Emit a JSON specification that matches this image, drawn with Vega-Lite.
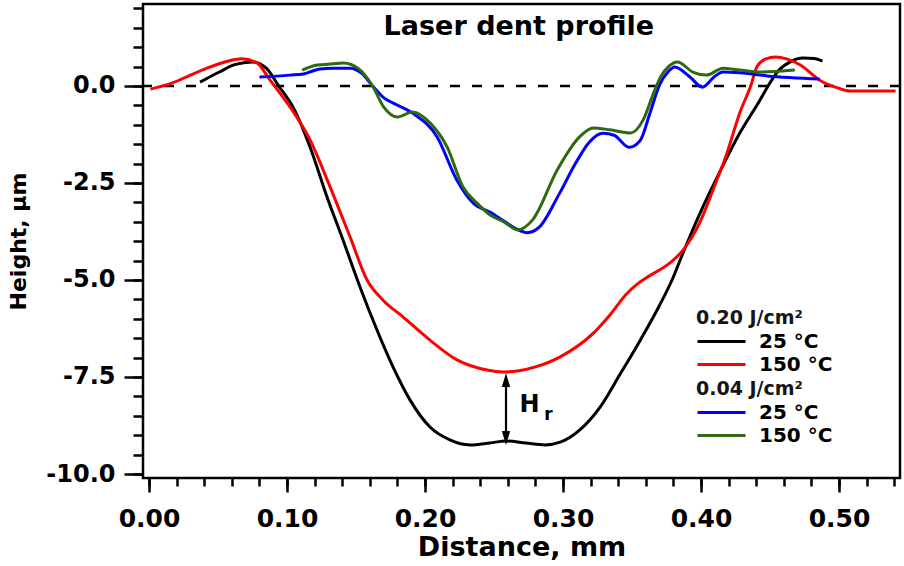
{
  "$schema": "https://vega.github.io/schema/vega-lite/v6.json",
  "width": 757,
  "height": 474,
  "autosize": {"type": "none"},
  "padding": {"left": 143, "top": 4, "right": 4, "bottom": 88},
  "background": "white",
  "config": {
    "font": "DejaVu Sans",
    "view": {"stroke": "#000000", "strokeWidth": 2.5},
    "axis": {
      "grid": false, "domain": false, "tickColor": "#000000", "tickWidth": 2.5,
      "labelColor": "#000000", "titleColor": "#000000",
      "labelFont": "DejaVu Sans", "titleFont": "DejaVu Sans",
      "labelFontWeight": "bold", "titleFontWeight": "bold"
    },
    "legend": {
      "symbolType": "stroke", "symbolSize": 2304, "symbolStrokeWidth": 3,
      "clipHeight": 23, "rowPadding": 0, "labelOffset": 12,
      "labelFont": "DejaVu Sans", "labelFontSize": 20, "labelFontWeight": "bold", "labelColor": "#000000",
      "titleFont": "DejaVu Sans", "titleFontSize": 19, "titleFontWeight": "bold", "titleColor": "#151515",
      "titlePadding": 2, "padding": 0, "labelLimit": 300
    }
  },
  "datasets": {
    "curves": [
      {"fluence": "0.20", "temp": "25 °C", "x": 0.037, "y": 0.10},
      {"fluence": "0.20", "temp": "25 °C", "x": 0.051, "y": 0.36},
      {"fluence": "0.20", "temp": "25 °C", "x": 0.062, "y": 0.55},
      {"fluence": "0.20", "temp": "25 °C", "x": 0.075, "y": 0.62},
      {"fluence": "0.20", "temp": "25 °C", "x": 0.085, "y": 0.46},
      {"fluence": "0.20", "temp": "25 °C", "x": 0.094, "y": 0.0},
      {"fluence": "0.20", "temp": "25 °C", "x": 0.1043, "y": -0.54},
      {"fluence": "0.20", "temp": "25 °C", "x": 0.1167, "y": -1.57},
      {"fluence": "0.20", "temp": "25 °C", "x": 0.129, "y": -2.86},
      {"fluence": "0.20", "temp": "25 °C", "x": 0.1406, "y": -3.97},
      {"fluence": "0.20", "temp": "25 °C", "x": 0.1529, "y": -5.18},
      {"fluence": "0.20", "temp": "25 °C", "x": 0.1652, "y": -6.29},
      {"fluence": "0.20", "temp": "25 °C", "x": 0.1768, "y": -7.24},
      {"fluence": "0.20", "temp": "25 °C", "x": 0.1891, "y": -8.09},
      {"fluence": "0.20", "temp": "25 °C", "x": 0.2036, "y": -8.79},
      {"fluence": "0.20", "temp": "25 °C", "x": 0.218, "y": -9.12},
      {"fluence": "0.20", "temp": "25 °C", "x": 0.2326, "y": -9.25},
      {"fluence": "0.20", "temp": "25 °C", "x": 0.247, "y": -9.20},
      {"fluence": "0.20", "temp": "25 °C", "x": 0.259, "y": -9.15},
      {"fluence": "0.20", "temp": "25 °C", "x": 0.273, "y": -9.20},
      {"fluence": "0.20", "temp": "25 °C", "x": 0.287, "y": -9.25},
      {"fluence": "0.20", "temp": "25 °C", "x": 0.298, "y": -9.18},
      {"fluence": "0.20", "temp": "25 °C", "x": 0.312, "y": -8.87},
      {"fluence": "0.20", "temp": "25 °C", "x": 0.327, "y": -8.27},
      {"fluence": "0.20", "temp": "25 °C", "x": 0.341, "y": -7.45},
      {"fluence": "0.20", "temp": "25 °C", "x": 0.356, "y": -6.55},
      {"fluence": "0.20", "temp": "25 °C", "x": 0.370, "y": -5.65},
      {"fluence": "0.20", "temp": "25 °C", "x": 0.379, "y": -5.00},
      {"fluence": "0.20", "temp": "25 °C", "x": 0.387, "y": -4.30},
      {"fluence": "0.20", "temp": "25 °C", "x": 0.399, "y": -3.30},
      {"fluence": "0.20", "temp": "25 °C", "x": 0.4138, "y": -2.20},
      {"fluence": "0.20", "temp": "25 °C", "x": 0.428, "y": -1.22},
      {"fluence": "0.20", "temp": "25 °C", "x": 0.4428, "y": -0.36},
      {"fluence": "0.20", "temp": "25 °C", "x": 0.4486, "y": 0.0},
      {"fluence": "0.20", "temp": "25 °C", "x": 0.4565, "y": 0.41},
      {"fluence": "0.20", "temp": "25 °C", "x": 0.465, "y": 0.63},
      {"fluence": "0.20", "temp": "25 °C", "x": 0.474, "y": 0.72},
      {"fluence": "0.20", "temp": "25 °C", "x": 0.482, "y": 0.71},
      {"fluence": "0.20", "temp": "25 °C", "x": 0.488, "y": 0.64},

      {"fluence": "0.20", "temp": "150 °C", "x": 0.001, "y": -0.08},
      {"fluence": "0.20", "temp": "150 °C", "x": 0.017, "y": 0.08},
      {"fluence": "0.20", "temp": "150 °C", "x": 0.030, "y": 0.28},
      {"fluence": "0.20", "temp": "150 °C", "x": 0.042, "y": 0.46},
      {"fluence": "0.20", "temp": "150 °C", "x": 0.055, "y": 0.62},
      {"fluence": "0.20", "temp": "150 °C", "x": 0.067, "y": 0.70},
      {"fluence": "0.20", "temp": "150 °C", "x": 0.078, "y": 0.60},
      {"fluence": "0.20", "temp": "150 °C", "x": 0.0877, "y": 0.15},
      {"fluence": "0.20", "temp": "150 °C", "x": 0.091, "y": 0.0},
      {"fluence": "0.20", "temp": "150 °C", "x": 0.1022, "y": -0.54},
      {"fluence": "0.20", "temp": "150 °C", "x": 0.1167, "y": -1.39},
      {"fluence": "0.20", "temp": "150 °C", "x": 0.1312, "y": -2.60},
      {"fluence": "0.20", "temp": "150 °C", "x": 0.1457, "y": -3.89},
      {"fluence": "0.20", "temp": "150 °C", "x": 0.158, "y": -5.0},
      {"fluence": "0.20", "temp": "150 °C", "x": 0.1696, "y": -5.52},
      {"fluence": "0.20", "temp": "150 °C", "x": 0.184, "y": -5.95},
      {"fluence": "0.20", "temp": "150 °C", "x": 0.2036, "y": -6.55},
      {"fluence": "0.20", "temp": "150 °C", "x": 0.2232, "y": -7.06},
      {"fluence": "0.20", "temp": "150 °C", "x": 0.2449, "y": -7.32},
      {"fluence": "0.20", "temp": "150 °C", "x": 0.256, "y": -7.37},
      {"fluence": "0.20", "temp": "150 °C", "x": 0.268, "y": -7.34},
      {"fluence": "0.20", "temp": "150 °C", "x": 0.280, "y": -7.24},
      {"fluence": "0.20", "temp": "150 °C", "x": 0.298, "y": -6.98},
      {"fluence": "0.20", "temp": "150 °C", "x": 0.322, "y": -6.37},
      {"fluence": "0.20", "temp": "150 °C", "x": 0.334, "y": -5.90},
      {"fluence": "0.20", "temp": "150 °C", "x": 0.346, "y": -5.36},
      {"fluence": "0.20", "temp": "150 °C", "x": 0.354, "y": -5.10},
      {"fluence": "0.20", "temp": "150 °C", "x": 0.361, "y": -4.93},
      {"fluence": "0.20", "temp": "150 °C", "x": 0.3775, "y": -4.56},
      {"fluence": "0.20", "temp": "150 °C", "x": 0.387, "y": -4.23},
      {"fluence": "0.20", "temp": "150 °C", "x": 0.399, "y": -3.53},
      {"fluence": "0.20", "temp": "150 °C", "x": 0.4087, "y": -2.68},
      {"fluence": "0.20", "temp": "150 °C", "x": 0.4188, "y": -1.73},
      {"fluence": "0.20", "temp": "150 °C", "x": 0.428, "y": -0.70},
      {"fluence": "0.20", "temp": "150 °C", "x": 0.436, "y": 0.0},
      {"fluence": "0.20", "temp": "150 °C", "x": 0.4406, "y": 0.50},
      {"fluence": "0.20", "temp": "150 °C", "x": 0.447, "y": 0.70},
      {"fluence": "0.20", "temp": "150 °C", "x": 0.454, "y": 0.75},
      {"fluence": "0.20", "temp": "150 °C", "x": 0.462, "y": 0.70},
      {"fluence": "0.20", "temp": "150 °C", "x": 0.472, "y": 0.54},
      {"fluence": "0.20", "temp": "150 °C", "x": 0.486, "y": 0.15},
      {"fluence": "0.20", "temp": "150 °C", "x": 0.499, "y": -0.05},
      {"fluence": "0.20", "temp": "150 °C", "x": 0.508, "y": -0.13},
      {"fluence": "0.20", "temp": "150 °C", "x": 0.541, "y": -0.13},

      {"fluence": "0.04", "temp": "25 °C", "x": 0.080, "y": 0.23},
      {"fluence": "0.04", "temp": "25 °C", "x": 0.102, "y": 0.28},
      {"fluence": "0.04", "temp": "25 °C", "x": 0.112, "y": 0.31},
      {"fluence": "0.04", "temp": "25 °C", "x": 0.118, "y": 0.38},
      {"fluence": "0.04", "temp": "25 °C", "x": 0.124, "y": 0.44},
      {"fluence": "0.04", "temp": "25 °C", "x": 0.133, "y": 0.46},
      {"fluence": "0.04", "temp": "25 °C", "x": 0.146, "y": 0.46},
      {"fluence": "0.04", "temp": "25 °C", "x": 0.154, "y": 0.33},
      {"fluence": "0.04", "temp": "25 °C", "x": 0.162, "y": 0.0},
      {"fluence": "0.04", "temp": "25 °C", "x": 0.170, "y": -0.30},
      {"fluence": "0.04", "temp": "25 °C", "x": 0.177, "y": -0.44},
      {"fluence": "0.04", "temp": "25 °C", "x": 0.191, "y": -0.70},
      {"fluence": "0.04", "temp": "25 °C", "x": 0.2087, "y": -1.31},
      {"fluence": "0.04", "temp": "25 °C", "x": 0.223, "y": -2.42},
      {"fluence": "0.04", "temp": "25 °C", "x": 0.235, "y": -3.02},
      {"fluence": "0.04", "temp": "25 °C", "x": 0.247, "y": -3.25},
      {"fluence": "0.04", "temp": "25 °C", "x": 0.258, "y": -3.50},
      {"fluence": "0.04", "temp": "25 °C", "x": 0.266, "y": -3.68},
      {"fluence": "0.04", "temp": "25 °C", "x": 0.274, "y": -3.78},
      {"fluence": "0.04", "temp": "25 °C", "x": 0.283, "y": -3.63},
      {"fluence": "0.04", "temp": "25 °C", "x": 0.297, "y": -2.80},
      {"fluence": "0.04", "temp": "25 °C", "x": 0.309, "y": -2.00},
      {"fluence": "0.04", "temp": "25 °C", "x": 0.319, "y": -1.45},
      {"fluence": "0.04", "temp": "25 °C", "x": 0.329, "y": -1.22},
      {"fluence": "0.04", "temp": "25 °C", "x": 0.337, "y": -1.27},
      {"fluence": "0.04", "temp": "25 °C", "x": 0.348, "y": -1.58},
      {"fluence": "0.04", "temp": "25 °C", "x": 0.356, "y": -1.40},
      {"fluence": "0.04", "temp": "25 °C", "x": 0.363, "y": -0.70},
      {"fluence": "0.04", "temp": "25 °C", "x": 0.370, "y": 0.03},
      {"fluence": "0.04", "temp": "25 °C", "x": 0.376, "y": 0.36},
      {"fluence": "0.04", "temp": "25 °C", "x": 0.381, "y": 0.49},
      {"fluence": "0.04", "temp": "25 °C", "x": 0.392, "y": 0.23},
      {"fluence": "0.04", "temp": "25 °C", "x": 0.401, "y": -0.03},
      {"fluence": "0.04", "temp": "25 °C", "x": 0.410, "y": 0.25},
      {"fluence": "0.04", "temp": "25 °C", "x": 0.416, "y": 0.36},
      {"fluence": "0.04", "temp": "25 °C", "x": 0.428, "y": 0.34},
      {"fluence": "0.04", "temp": "25 °C", "x": 0.448, "y": 0.26},
      {"fluence": "0.04", "temp": "25 °C", "x": 0.486, "y": 0.18},

      {"fluence": "0.04", "temp": "150 °C", "x": 0.111, "y": 0.41},
      {"fluence": "0.04", "temp": "150 °C", "x": 0.122, "y": 0.54},
      {"fluence": "0.04", "temp": "150 °C", "x": 0.133, "y": 0.57},
      {"fluence": "0.04", "temp": "150 °C", "x": 0.141, "y": 0.59},
      {"fluence": "0.04", "temp": "150 °C", "x": 0.152, "y": 0.44},
      {"fluence": "0.04", "temp": "150 °C", "x": 0.162, "y": 0.0},
      {"fluence": "0.04", "temp": "150 °C", "x": 0.170, "y": -0.54},
      {"fluence": "0.04", "temp": "150 °C", "x": 0.180, "y": -0.80},
      {"fluence": "0.04", "temp": "150 °C", "x": 0.191, "y": -0.67},
      {"fluence": "0.04", "temp": "150 °C", "x": 0.2036, "y": -0.95},
      {"fluence": "0.04", "temp": "150 °C", "x": 0.216, "y": -1.57},
      {"fluence": "0.04", "temp": "150 °C", "x": 0.2275, "y": -2.60},
      {"fluence": "0.04", "temp": "150 °C", "x": 0.2377, "y": -3.02},
      {"fluence": "0.04", "temp": "150 °C", "x": 0.247, "y": -3.32},
      {"fluence": "0.04", "temp": "150 °C", "x": 0.258, "y": -3.52},
      {"fluence": "0.04", "temp": "150 °C", "x": 0.267, "y": -3.71},
      {"fluence": "0.04", "temp": "150 °C", "x": 0.278, "y": -3.45},
      {"fluence": "0.04", "temp": "150 °C", "x": 0.296, "y": -2.15},
      {"fluence": "0.04", "temp": "150 °C", "x": 0.312, "y": -1.31},
      {"fluence": "0.04", "temp": "150 °C", "x": 0.322, "y": -1.08},
      {"fluence": "0.04", "temp": "150 °C", "x": 0.334, "y": -1.13},
      {"fluence": "0.04", "temp": "150 °C", "x": 0.349, "y": -1.21},
      {"fluence": "0.04", "temp": "150 °C", "x": 0.358, "y": -0.88},
      {"fluence": "0.04", "temp": "150 °C", "x": 0.366, "y": -0.15},
      {"fluence": "0.04", "temp": "150 °C", "x": 0.371, "y": 0.25},
      {"fluence": "0.04", "temp": "150 °C", "x": 0.377, "y": 0.52},
      {"fluence": "0.04", "temp": "150 °C", "x": 0.383, "y": 0.62},
      {"fluence": "0.04", "temp": "150 °C", "x": 0.394, "y": 0.36},
      {"fluence": "0.04", "temp": "150 °C", "x": 0.404, "y": 0.28},
      {"fluence": "0.04", "temp": "150 °C", "x": 0.416, "y": 0.46},
      {"fluence": "0.04", "temp": "150 °C", "x": 0.428, "y": 0.41},
      {"fluence": "0.04", "temp": "150 °C", "x": 0.443, "y": 0.36},
      {"fluence": "0.04", "temp": "150 °C", "x": 0.468, "y": 0.41}
    ]
  },
  "layer": [
    {
      "data": {"values": [{}]},
      "mark": {"type": "rule", "strokeDash": [10, 12], "strokeWidth": 2.5, "color": "#000000"},
      "encoding": {
        "y": {"datum": 0, "type": "quantitative", "axis": null, "scale": {"domain": [-10.103, 2.113], "nice": false, "zero": false}}
      }
    },
    {
      "data": {"name": "curves"},
      "transform": [{"filter": "datum.fluence === '0.20'"}],
      "mark": {"type": "line", "interpolate": "monotone", "strokeWidth": 3},
      "encoding": {
        "x": {
          "field": "x", "type": "quantitative",
          "scale": {"domain": [-0.00435, 0.5442], "nice": false, "zero": false},
          "axis": {
            "orient": "bottom", "values": [0, 0.1, 0.2, 0.3, 0.4, 0.5], "format": ".2f",
            "tickSize": 14, "labelFontSize": 25, "labelPadding": 14,
            "title": "Distance, mm", "titleFontSize": 27, "titlePadding": 3
          }
        },
        "y": {
          "field": "y", "type": "quantitative",
          "scale": {"domain": [-10.103, 2.113], "nice": false, "zero": false},
          "axis": {
            "orient": "left", "values": [-10, -7.5, -5, -2.5, 0],
            "labelExpr": "replace(format(datum.value, '.1f'), '\u2212', '-')",
            "tickSize": 19, "labelFontSize": 24, "labelPadding": 9,
            "title": "Height, μm", "titleFontSize": 22, "titlePadding": 15
          }
        },
        "color": {
          "field": "temp", "type": "nominal",
          "scale": {"domain": ["25 °C", "150 °C"], "range": ["#000000", "#ff0000"]},
          "legend": {"title": "0.20 J/cm²", "orient": "none", "legendX": 553, "legendY": 305}
        }
      }
    },
    {
      "data": {"name": "curves"},
      "transform": [{"filter": "datum.fluence === '0.04'"}],
      "mark": {"type": "line", "interpolate": "monotone", "strokeWidth": 3},
      "encoding": {
        "x": {
          "field": "x", "type": "quantitative",
          "scale": {"domain": [-0.00435, 0.5442], "nice": false, "zero": false},
          "axis": {
            "orient": "bottom",
            "values": [0, 0.02, 0.04, 0.06, 0.08, 0.1, 0.12, 0.14, 0.16, 0.18, 0.2, 0.22, 0.24, 0.26, 0.28, 0.3, 0.32, 0.34, 0.36, 0.38, 0.4, 0.42, 0.44, 0.46, 0.48, 0.5, 0.52, 0.54],
            "tickSize": 8, "labels": false, "title": null
          }
        },
        "y": {
          "field": "y", "type": "quantitative",
          "scale": {"domain": [-10.103, 2.113], "nice": false, "zero": false},
          "axis": {
            "orient": "left",
            "values": [-10, -9.5, -9, -8.5, -8, -7.5, -7, -6.5, -6, -5.5, -5, -4.5, -4, -3.5, -3, -2.5, -2, -1.5, -1, -0.5, 0, 0.5, 1, 1.5, 2],
            "tickSize": 10, "labels": false, "title": null
          }
        },
        "color": {
          "field": "temp", "type": "nominal",
          "scale": {"domain": ["25 °C", "150 °C"], "range": ["#0000ff", "#2d6a10"]},
          "legend": {"title": "0.04 J/cm²", "orient": "none", "legendX": 553, "legendY": 376}
        }
      }
    },
    {
      "data": {"values": [{}]},
      "mark": {"type": "rule", "strokeWidth": 2.2, "color": "#000000"},
      "encoding": {
        "x": {"datum": 0.2587, "type": "quantitative", "axis": null},
        "y": {"datum": -7.55, "type": "quantitative", "axis": null},
        "y2": {"datum": -9.05}
      }
    },
    {
      "data": {"values": [{}]},
      "mark": {"type": "point", "filled": true, "opacity": 1, "color": "#000000", "shape": "M0,-1L-0.6,1L0.6,1Z", "size": 196, "strokeWidth": 0},
      "encoding": {
        "x": {"datum": 0.2587, "type": "quantitative", "axis": null},
        "y": {"datum": -7.58, "type": "quantitative", "axis": null}
      }
    },
    {
      "data": {"values": [{}]},
      "mark": {"type": "point", "filled": true, "opacity": 1, "color": "#000000", "shape": "M0,1L-0.6,-1L0.6,-1Z", "size": 196, "strokeWidth": 0},
      "encoding": {
        "x": {"datum": 0.2587, "type": "quantitative", "axis": null},
        "y": {"datum": -9.07, "type": "quantitative", "axis": null}
      }
    },
    {
      "data": {"values": [{}]},
      "mark": {"type": "text", "text": "H", "font": "DejaVu Sans", "fontSize": 24, "fontWeight": "bold", "align": "left", "baseline": "middle", "color": "#000000"},
      "encoding": {
        "x": {"datum": 0.2685, "type": "quantitative", "axis": null},
        "y": {"datum": -8.22, "type": "quantitative", "axis": null}
      }
    },
    {
      "data": {"values": [{}]},
      "mark": {"type": "text", "text": "r", "font": "DejaVu Sans", "fontSize": 17, "fontWeight": "bold", "align": "left", "baseline": "middle", "color": "#000000"},
      "encoding": {
        "x": {"datum": 0.2865, "type": "quantitative", "axis": null},
        "y": {"datum": -8.48, "type": "quantitative", "axis": null}
      }
    },
    {
      "data": {"values": [{}]},
      "mark": {"type": "text", "text": "Laser dent profile", "font": "DejaVu Sans", "fontSize": 27, "fontWeight": "bold", "align": "center", "baseline": "middle", "color": "#000000"},
      "encoding": {
        "x": {"datum": 0.268, "type": "quantitative", "axis": null},
        "y": {"datum": 1.52, "type": "quantitative", "axis": null}
      }
    }
  ],
  "resolve": {
    "scale": {"color": "independent"},
    "axis": {"x": "independent", "y": "independent"}
  }
}
